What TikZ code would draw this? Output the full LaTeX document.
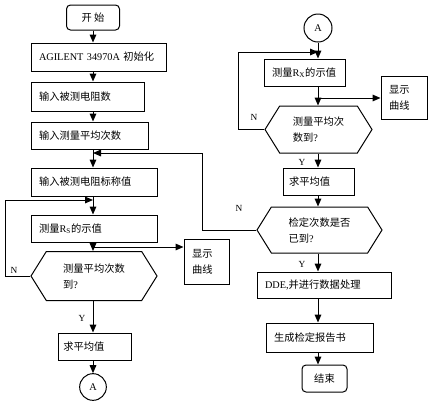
\documentclass[tikz,border=0pt]{standalone}
\usepackage{fontspec}
\setmainfont{Noto Sans CJK SC}
\newfontfamily\latfont{Liberation Serif}
\usetikzlibrary{arrows.meta,shapes.symbols}

\tikzset{every picture/.style={line width=0.75pt}}
\tikzset{
  base/.style={font=\fontsize{7.7}{12}\selectfont, inner sep=0.75pt},
  termbox/.style={base, draw, rounded corners=3pt, align=center},
  procbox/.style={base, draw, inner xsep=6pt, align=left},
  decbox/.style={base, draw, shape=signal, signal to=east and west, signal pointer angle=116, align=left},
  conn/.style={base, draw, circle, minimum size=20pt},
  ynlab/.style={font=\latfont\fontsize{7}{8}\selectfont, inner sep=0pt},
  arr/.style={-{Triangle[length=6pt,width=5pt]}}
}

\begin{document}
\begin{tikzpicture}[x=0.75pt,y=0.75pt,yscale=-1,xscale=1]
\useasboundingbox (0,0) rectangle (429,401);
% left column
\node[termbox, minimum width=39.75pt, minimum height=18.75pt] (start) at (93,17.5) {开 始};
\node[procbox, text width=89.25pt, minimum height=21pt] (init) at (98.5,57) {{\latfont AGILENT 34970A} 初始化};
\node[procbox, text width=72.75pt, minimum height=21.75pt] (numres) at (87.5,96.5) {输入被测电阻数};
\node[procbox, text width=75.75pt, minimum height=20.25pt] (numavg) at (89.5,135.5) {输入测量平均次数};
\node[procbox, text width=82.5pt, minimum height=21pt] (nominal) at (94,182) {输入被测电阻标称值};
\node[procbox, text width=82.5pt, minimum height=20.25pt] (measRs) at (94,228.5) {测量{\latfont R\textsubscript{S}}的示值};
\node[procbox, text width=21.75pt, minimum height=33.75pt] (showA) at (206.5,261.5) {显示\\曲线};
\node[decbox, minimum width=94.5pt, minimum height=36.75pt] (dec1) at (94,276) {测量平均次数\\到{\latfont ?}};
\node[procbox, inner xsep=4pt, text width=46.75pt, minimum height=20.25pt] (avg1) at (94.5,346.5) {求平均值};
\node[conn] (A1) at (93,387) {{\latfont A}};
% right column
\node[conn, minimum size=21pt] (A2) at (318,28) {{\latfont A}};
\node[procbox, text width=48.75pt, minimum height=20.25pt] (measRx) at (304.5,72.5) {测量{\latfont R\textsubscript{X}}的示值};
\node[procbox, text width=22.5pt, minimum height=32.25pt] (showB) at (404,97.5) {显示\\曲线};
\node[decbox, minimum width=80.25pt, minimum height=35.25pt] (dec2) at (318.5,129.5) {测量平均次\\数到{\latfont ?}};
\node[procbox, inner xsep=4.5pt, text width=44.25pt, minimum height=20.25pt] (avg2) at (318.5,181.5) {求平均值};
\node[decbox, minimum width=93.75pt, minimum height=34.5pt] (dec3) at (319.5,230) {检定次数是否\\已到{\latfont ?}};
\node[procbox, text width=88.5pt, minimum height=19.5pt] (dde) at (324,285) {{\latfont DDE,}并进行数据处理};
\node[procbox, text width=68.25pt, minimum height=21.75pt] (report) at (319.5,337.5) {生成检定报告书};
\node[termbox, minimum width=33.75pt, minimum height=20.25pt] (stop) at (324.5,378.5) {结束};

% left flow
\draw[arr] (start) -- (start |- init.north);
\draw[arr] (start |- init.south) -- (start |- numres.north);
\draw[arr] (start |- numres.south) -- (start |- numavg.north);
\draw[arr] (start |- numavg.south) -- (start |- nominal.north);
\draw[arr] (start |- nominal.south) -- (start |- measRs.north);
\draw[arr] (start |- measRs.south) -- (start |- dec1.north);
\draw[arr] (start |- dec1.south) -- (start |- avg1.north);
\draw[arr] (start |- avg1.south) -- (A1);
\coordinate (splitA) at (93,247);
\draw[arr] (splitA) -- (splitA -| showA.west);
\coordinate (loopA) at (5,200);
\draw[arr] (dec1.west) -| (loopA) -- (loopA -| start);
% right flow
\draw[arr] (A2) -- (A2 |- measRx.north);
\draw[arr] (A2 |- measRx.south) -- (A2 |- dec2.north);
\draw[arr] (A2 |- dec2.south) -- (A2 |- avg2.north);
\draw[arr] (A2 |- avg2.south) -- (A2 |- dec3.north);
\draw[arr] (A2 |- dec3.south) -- (A2 |- dde.north);
\draw[arr] (A2 |- dde.south) -- (A2 |- report.north);
\draw[arr] (A2 |- report.south) -- (A2 |- stop.north);
\coordinate (splitB) at (318,98);
\draw[arr] (splitB) -- (splitB -| showB.west);
\coordinate (loopB) at (238,52);
\draw[arr] (dec2.west) -| (loopB) -- (loopB -| A2);
\coordinate (loopC) at (202,153);
\draw[arr] (dec3.west) -| (loopC) -- (loopC -| start);

% Y / N labels
\node[ynlab] (nA) at (14,270) {N};
\node[ynlab] (yA) at (82,318) {Y};
\node[ynlab] (nB) at (254,117) {N};
\node[ynlab] (yB) at (302,162) {Y};
\node[ynlab] (nC) at (239,208) {N};
\node[ynlab] (yC) at (302,264) {Y};
\end{tikzpicture}
\end{document}
